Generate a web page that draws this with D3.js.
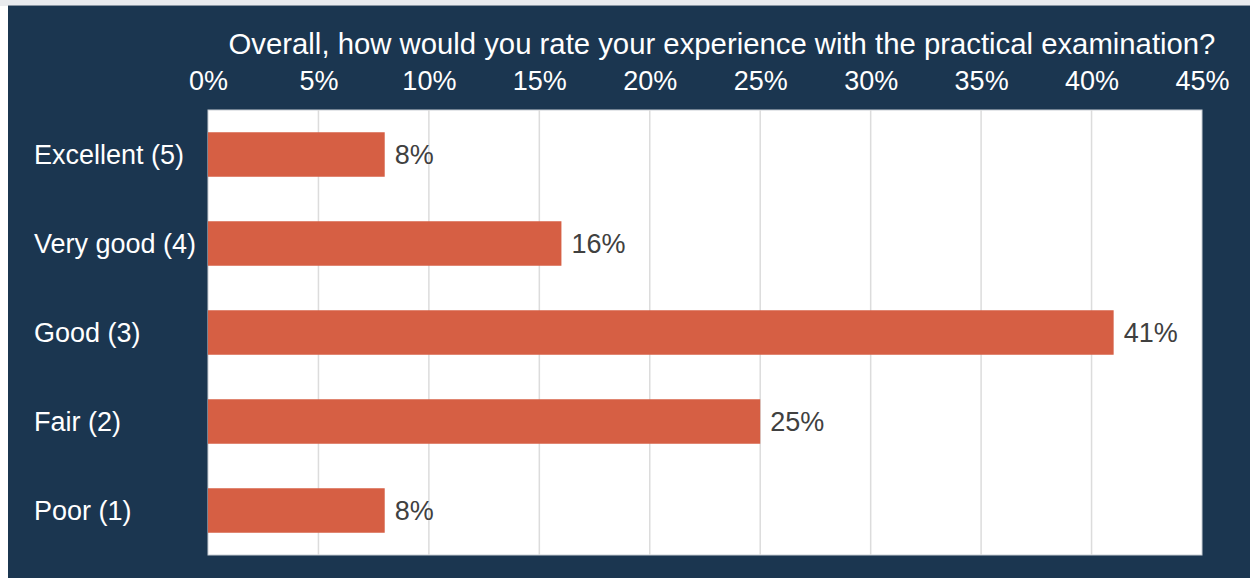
<!DOCTYPE html>
<html>
<head>
<meta charset="utf-8">
<script src="https://cdn.jsdelivr.net/npm/d3@7"></script>
<style>
  html, body { margin: 0; padding: 0; background: #ffffff; }
  svg { display: block; }
  text { font-family: "Liberation Sans", Arial, sans-serif; }
</style>
</head>
<body>
<svg id="chart" width="1250" height="578"></svg>
<script>
// Survey responses: share of respondents per rating
const categories = ["Excellent (5)", "Very good (4)", "Good (3)", "Fair (2)", "Poor (1)"];
const values = [8, 16, 41, 25, 8];
const tickValues = [0, 5, 10, 15, 20, 25, 30, 35, 40, 45];
const title = "Overall, how would you rate your experience with the practical examination?";

const W = 1250, H = 578;
const plot = { left: 208, top: 110, right: 1202, bottom: 555 };
const labelSize = 27;
const titleSize = 29.3;

const svg = d3.select("#chart");

// Outer frame: thin light strip above, white margin at left, navy panel
svg.append("rect").attr("x", 0).attr("y", 0).attr("width", W).attr("height", 6).attr("fill", "#e9ebee");
svg.append("rect").attr("x", 8).attr("y", 5).attr("width", W - 8).attr("height", 1).attr("fill", "#8a96a3");
svg.append("rect").attr("x", 8).attr("y", 6).attr("width", W - 8).attr("height", H - 6).attr("fill", "#1b3650");

const x = d3.scaleLinear().domain([0, 45]).range([plot.left, plot.right]);
const y = d3.scaleBand().domain(categories).range([plot.top, plot.bottom]).paddingInner(0.5).paddingOuter(0.25);

// Plot area
svg.append("rect")
  .attr("x", plot.left).attr("y", plot.top)
  .attr("width", plot.right - plot.left).attr("height", plot.bottom - plot.top)
  .attr("fill", "#ffffff").attr("stroke", "#c9ced4").attr("stroke-width", 1);

// Vertical gridlines
svg.append("g")
  .selectAll("line")
  .data(tickValues.slice(1, -1))
  .join("line")
  .attr("x1", d => x(d)).attr("x2", d => x(d))
  .attr("y1", plot.top).attr("y2", plot.bottom)
  .attr("stroke", "#dcdcdc").attr("stroke-width", 1.5);

// Top axis with percentage ticks
const axis = svg.append("g")
  .attr("transform", `translate(0,${plot.top})`)
  .call(d3.axisTop(x).tickValues(tickValues).tickFormat(d => d + "%").tickSize(0).tickPadding(20));
axis.select(".domain").remove();
axis.selectAll("text")
  .attr("fill", "#ffffff")
  .style("font-size", labelSize + "px")
  .style("font-family", "'Liberation Sans', Arial, sans-serif");

// Title
svg.append("text")
  .attr("x", 722).attr("y", 54)
  .attr("text-anchor", "middle")
  .attr("fill", "#ffffff")
  .style("font-size", titleSize + "px")
  .text(title);

// Category labels (left aligned)
svg.append("g")
  .selectAll("text")
  .data(categories)
  .join("text")
  .attr("x", 34)
  .attr("y", d => y(d) + y.bandwidth() / 2 + 9.5)
  .attr("fill", "#ffffff")
  .style("font-size", labelSize + "px")
  .text(d => d);

// Bars
svg.append("g")
  .selectAll("rect")
  .data(values)
  .join("rect")
  .attr("x", x(0))
  .attr("y", (d, i) => y(categories[i]))
  .attr("width", d => x(d) - x(0))
  .attr("height", y.bandwidth())
  .attr("fill", "#d65f44");

// Value labels
svg.append("g")
  .selectAll("text")
  .data(values)
  .join("text")
  .attr("x", d => x(d) + 10)
  .attr("y", (d, i) => y(categories[i]) + y.bandwidth() / 2 + 9.5)
  .attr("fill", "#404040")
  .style("font-size", labelSize + "px")
  .text(d => d + "%");
</script>
</body>
</html>
